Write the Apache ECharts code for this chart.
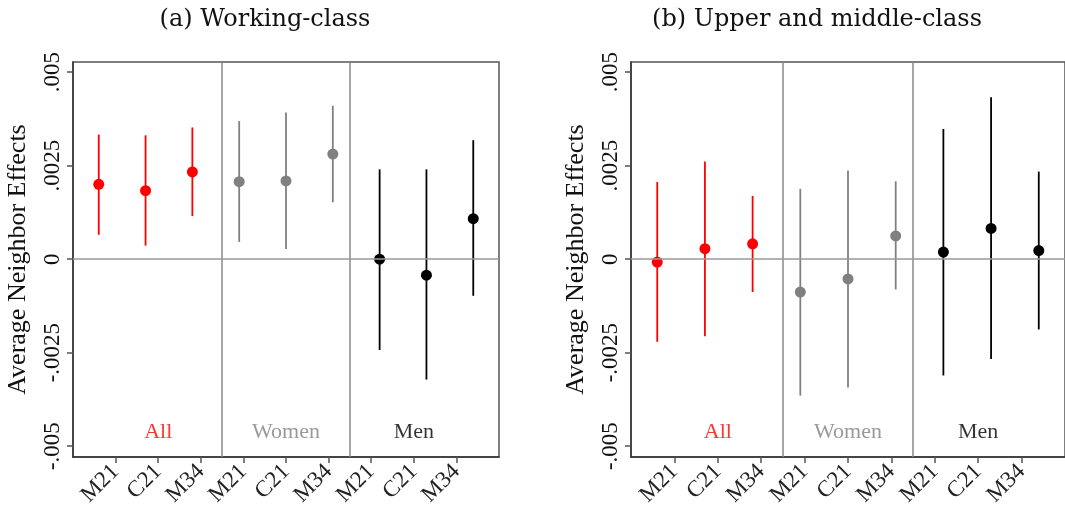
<!DOCTYPE html>
<html><head><meta charset="utf-8">
<script src="https://cdn.jsdelivr.net/npm/echarts@6/dist/echarts.min.js"></script>
<style>html,body{margin:0;padding:0;background:#fff}#c{width:1065px;height:516px}</style>
</head><body><div id="c"></div>
<script>
// ---- data ----
const categories = ['M21','C21','M34'];
const groups = ['All','Women','Men'];
const groupColors = ['#ff0000','#808080','#000000'];
const panelTitles = ['(a) Working-class','(b) Upper and middle-class'];
const yTickValues = [-0.005,-0.0025,0,0.0025,0.005];
const yTickLabels = ['-.005','-.0025','0','.0025','.005'];
// panel a (All M21,C21,M34, Women ..., Men ...)
const meanA = [0.00200,0.00183,0.00233, 0.00207,0.00209,0.00281, 0.00000,-0.00043,0.00108];
const lowA  = [0.00065,0.00036,0.00115, 0.00046,0.00027,0.00152, -0.00243,-0.00322,-0.00098];
const highA = [0.00333,0.00331,0.00352, 0.00369,0.00392,0.00410, 0.00240,0.00240,0.00318];
// panel b
const meanB = [-0.00008,0.00028,0.00041, -0.00088,-0.00053,0.00062, 0.00019,0.00082,0.00023];
const lowB  = [-0.00221,-0.00206,-0.00088, -0.00365,-0.00343,-0.00081, -0.00311,-0.00267,-0.00188];
const highB = [0.00206,0.00261,0.00169, 0.00188,0.00237,0.00208, 0.00348,0.00433,0.00234];

const serif = '"Liberation Serif", "DejaVu Serif", serif';
const titleSerif = '"DejaVu Serif", serif';
const chart = echarts.init(document.getElementById('c'));

const grids = [
  {left:73, top:62, width:426, height:395, show:true, borderColor:'#555', borderWidth:1.5, backgroundColor:'#fff'},
  {left:631, top:62, width:439, height:395, show:true, borderColor:'#555', borderWidth:1.5, backgroundColor:'#fff'}
];
const xAxes = [], yAxes = [], series = [];
const panels = [[meanA,lowA,highA],[meanB,lowB,highB]];
panels.forEach((p, gi) => {
  // point axis
  xAxes.push({type:'value', gridIndex:gi, min:0.45, max:9.55, show:false});
  // tick axis
  xAxes.push({type:'value', gridIndex:gi, min:0, max:10, interval:1, position:'bottom',
    axisLine:{show:true, onZero:false, lineStyle:{color:'#333', width:1.5}},
    axisTick:{show:true, length:6, customValues:[1,2,3,4,5,6,7,8,9], lineStyle:{color:'#555', width:1.5}},
    axisLabel:{show:true, rotate:45, margin:11, fontFamily:serif, fontSize:23, color:'#222',
      customValues:[1,2,3,4,5,6,7,8,9], formatter:v => categories[(Math.round(v)-1)%3]},
    splitLine:{show:false}});
  yAxes.push({type:'value', gridIndex:gi, min:-0.00529, max:0.00527,
    name:'Average Neighbor Effects', nameLocation:'middle', nameRotate:90, nameGap:42,
    nameTextStyle:{fontFamily:serif, fontSize:26, color:'#111'},
    axisLine:{show:true, lineStyle:{color:'#333', width:1.5}},
    axisTick:{show:true, length:6, customValues:yTickValues, lineStyle:{color:'#555', width:1.5}},
    axisLabel:{show:true, rotate:90, margin:9, fontFamily:serif, fontSize:23, color:'#111',
      customValues:yTickValues, formatter:v => yTickLabels[yTickValues.findIndex(t => Math.abs(t-v)<1e-9)]},
    splitLine:{show:false}});
  const [mean, low, high] = p;
  const pointAxis = gi*2, tickAxis = gi*2+1;
  // reference lines + group labels on tick axis
  series.push({type:'scatter', xAxisIndex:tickAxis, yAxisIndex:gi, symbolSize:0,
    data: groups.map((g,i) => ({value:[2+3*i, -0.00462], name:g,
      label:{show:true, position:'inside', formatter:g, fontFamily:serif, fontSize:22, color:groupColors[i]}})),
    silent:true, z:1,
    markLine:{symbol:'none', silent:true, label:{show:false},
      data:[{xAxis:3.5, lineStyle:{color:'#888', width:1.5, type:'solid'}},
            {xAxis:6.5, lineStyle:{color:'#888', width:1.5, type:'solid'}},
            {yAxis:0, lineStyle:{color:'#999', width:1.5, type:'solid'}}]}});
  // error bars
  series.push({type:'custom', xAxisIndex:pointAxis, yAxisIndex:gi, z:3,
    data: mean.map((m,i) => [i+1, low[i], high[i], Math.floor(i/3)]),
    renderItem:(params, api) => {
      const a = api.coord([api.value(0), api.value(1)]);
      const b = api.coord([api.value(0), api.value(2)]);
      return {type:'line', shape:{x1:a[0], y1:a[1], x2:b[0], y2:b[1]},
        style:{stroke:groupColors[api.value(3)], lineWidth:1.8}};
    }});
  // points
  series.push({type:'scatter', xAxisIndex:pointAxis, yAxisIndex:gi, z:4, symbol:'circle', symbolSize:11,
    data: mean.map((m,i) => ({value:[i+1, m], itemStyle:{color:groupColors[Math.floor(i/3)], opacity:1}}))});
});

chart.setOption({
  animation:false,
  title: panelTitles.map((t,i) => ({text:t, left: i===0 ? 260 : 812, top:3, textAlign:'center',
    textStyle:{fontFamily:titleSerif, fontSize:24, fontWeight:'normal', color:'#111'}})),
  grid: grids, xAxis: xAxes, yAxis: yAxes, series: series
});
</script></body></html>
